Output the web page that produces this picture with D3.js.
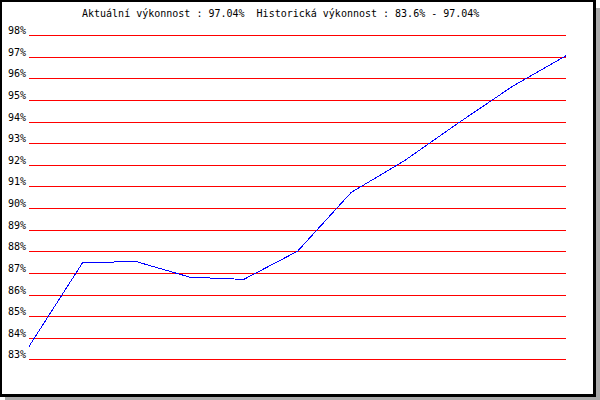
<!DOCTYPE html>
<html>
<head>
<meta charset="utf-8">
<script src="https://cdn.jsdelivr.net/npm/d3@7"></script>
<style>
  body { margin: 0; background: #ffffff; }
  svg { display: block; }
  text { font-family: "DejaVu Sans Mono", monospace; font-size: 10px; fill: #000000; white-space: pre; }
</style>
</head>
<body>
<div id="chart"></div>
<script>
"use strict";

// chart values
const titleText = 'Aktuální výkonnost : 97.04%  Historická výkonnost : 83.6% - 97.04%';
const points = [0, 1, 2, 3, 4, 5, 6, 7, 8, 9, 10];
const performance = [83.6, 87.48, 87.52, 86.8, 86.7, 88.0, 90.72, 92.2, 93.94, 95.62, 97.04];
const yTicks = [83, 84, 85, 86, 87, 88, 89, 90, 91, 92, 93, 94, 95, 96, 97, 98];

(function () {
  let width = 600;
  let height = 400;

  let svg = d3.select('#chart').append('svg')
    .attr('width', width)
    .attr('height', height);

  // shadow then black frame
  svg.append('rect')
    .attr('x', 596).attr('y', 8)
    .attr('width', 4).attr('height', 392)
    .style('fill', '#aaaaaa');
  svg.append('rect')
    .attr('x', 5).attr('y', 397)
    .attr('width', 595).attr('height', 3)
    .style('fill', '#aaaaaa');
  svg.append('rect')
    .attr('x', 0).attr('y', 0)
    .attr('width', 596).attr('height', 397)
    .style('fill', '#000000');
  svg.append('rect')
    .attr('x', 2).attr('y', 2)
    .attr('width', 591).attr('height', 392)
    .style('fill', '#ffffff');

  let xScale = d3.scaleLinear()
    .domain([0, points.length - 1])
    .range([29, 566]);

  let yScale = d3.scaleLinear()
    .domain([83, 98])
    .range([359.4, 35]);

  // grid lines
  svg.append('g').selectAll('line')
    .data(yTicks)
    .enter()
    .append('line')
    .attr('x1', 29)
    .attr('x2', 566)
    .attr('y1', function (d) { return Math.round(yScale(d)) + 0.5; })
    .attr('y2', function (d) { return Math.round(yScale(d)) + 0.5; })
    .style('stroke', '#ff0000')
    .style('stroke-width', 1);

  // tick labels
  svg.append('g').selectAll('text')
    .data(yTicks)
    .enter()
    .append('text')
    .attr('x', 8)
    .attr('y', function (d) { return Math.round(yScale(d)) - 1; })
    .text(function (d) { return d + '%'; });

  // title
  svg.append('text')
    .attr('x', 82)
    .attr('y', 17)
    .attr('xml:space', 'preserve')
    .text(titleText);

  let line = d3.line()
    .x(function (d, i) { return xScale(points[i]); })
    .y(function (d) { return yScale(d); });

  svg.append('path')
    .datum(performance)
    .attr('d', line)
    .style('fill', 'none')
    .style('stroke', '#0000ff')
    .style('stroke-width', 1)
    .style('shape-rendering', 'crispEdges');
})();
</script>
</body>
</html>
